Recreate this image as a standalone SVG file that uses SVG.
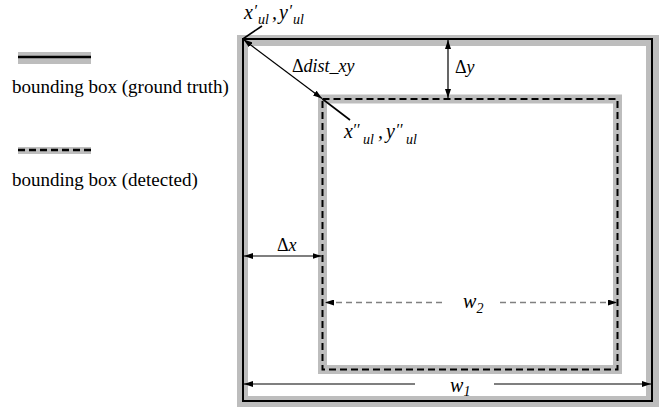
<svg xmlns="http://www.w3.org/2000/svg" width="664" height="408" viewBox="0 0 664 408">
<style>
text{font-family:"Liberation Serif","Times New Roman",serif;fill:#000}
.t{font-size:18px}
.lg{font-size:19px}
.m{font-size:20px;font-style:italic}
.p{font-size:16px;font-style:italic}
.s{font-size:14px;font-style:italic}
.g{fill:none;stroke:#bdbdbd}
.k{fill:none;stroke:#000;stroke-width:2}
.d{fill:none;stroke:#000;stroke-width:2;stroke-dasharray:7 4}
.a{fill:none;stroke:#000;stroke-width:1.2}
.l{fill:none;stroke:#000;stroke-width:1.6}
.w{fill:none;stroke:#808080;stroke-width:1.4;stroke-dasharray:6 4}
</style>
<defs>
<marker id="ah" markerUnits="userSpaceOnUse" markerWidth="9" markerHeight="6" refX="9" refY="3" orient="auto-start-reverse">
<path d="M0,0 L9,3 L0,6 z" fill="#000"/>
</marker>
</defs>
<rect width="664" height="408" fill="#fff"/>
<g id="legend-ground-truth">
<rect x="18" y="52" width="73" height="12" fill="#bdbdbd"/>
<line x1="18" y1="57" x2="91" y2="57" stroke="#000" stroke-width="2.5"/>
<text class="lg" x="12" y="93">bounding box (ground truth)</text>
</g>
<g id="legend-detected">
<rect x="18" y="147" width="73" height="7" fill="#bdbdbd"/>
<line x1="18" y1="150" x2="91" y2="150" stroke="#000" stroke-width="2.5" stroke-dasharray="7 4"/>
<text class="lg" x="12" y="186">bounding box (detected)</text>
</g>
<g id="box-ground-truth">
<path d="M237,35 H659 V407 H237 Z M248,46 V396 H646 V46 Z" fill="#bdbdbd" fill-rule="evenodd"/>
<rect class="k" x="243" y="39" width="409" height="362"/>
</g>
<g id="box-detected">
<rect class="g" stroke-width="9" x="322.5" y="99" width="295" height="270.5"/>
<rect class="d" x="322.5" y="99" width="295" height="270.5"/>
</g>
<g id="connectors">
<line class="a" x1="243.5" y1="39.5" x2="322" y2="98.5" marker-start="url(#ah)" marker-end="url(#ah)"/>
<line class="l" x1="262" y1="26" x2="243.5" y2="38.5"/>
<line class="l" x1="322.5" y1="99" x2="350" y2="120"/>
<line class="a" x1="448" y1="40" x2="448" y2="98" marker-start="url(#ah)" marker-end="url(#ah)"/>
<line class="a" x1="244" y1="256" x2="321.5" y2="256" marker-start="url(#ah)" marker-end="url(#ah)"/>
<line class="w" x1="442" y1="302.5" x2="325" y2="302.5" marker-end="url(#ah)"/>
<line class="w" x1="500" y1="302.5" x2="617" y2="302.5" marker-end="url(#ah)"/>
<line class="a" x1="415" y1="384" x2="244" y2="384" marker-end="url(#ah)"/>
<line class="a" x1="494" y1="384" x2="651" y2="384" marker-end="url(#ah)"/>
</g>
<g id="labels">
<g id="label-upper-left-gt">
<text class="m" x="244" y="19">x</text>
<text class="p" x="253.5" y="16">′</text>
<text class="s" x="258" y="24">ul</text>
<text class="m" x="272" y="19">,</text>
<text class="m" x="279" y="19">y</text>
<text class="p" x="288.5" y="16">′</text>
<text class="s" x="293" y="24">ul</text>
</g>
<g id="label-upper-left-det">
<text class="m" x="344" y="138">x</text>
<text class="p" x="352.5" y="135">′′</text>
<text class="s" x="363" y="144">ul</text>
<text class="m" x="378" y="138">,</text>
<text class="m" x="386" y="138">y</text>
<text class="p" x="395.5" y="135">′′</text>
<text class="s" x="406" y="144">ul</text>
</g>
<text class="t" x="292" y="72">Δ<tspan font-style="italic">dist_xy</tspan></text>
<text class="t" x="455" y="73">Δ<tspan font-style="italic">y</tspan></text>
<text class="t" x="277" y="251">Δ<tspan font-style="italic">x</tspan></text>
<text class="m" x="463" y="308">w</text>
<text class="s" x="476.5" y="313">2</text>
<text class="m" x="450" y="392">w</text>
<text class="s" x="463.5" y="396">1</text>
</g>
</svg>
